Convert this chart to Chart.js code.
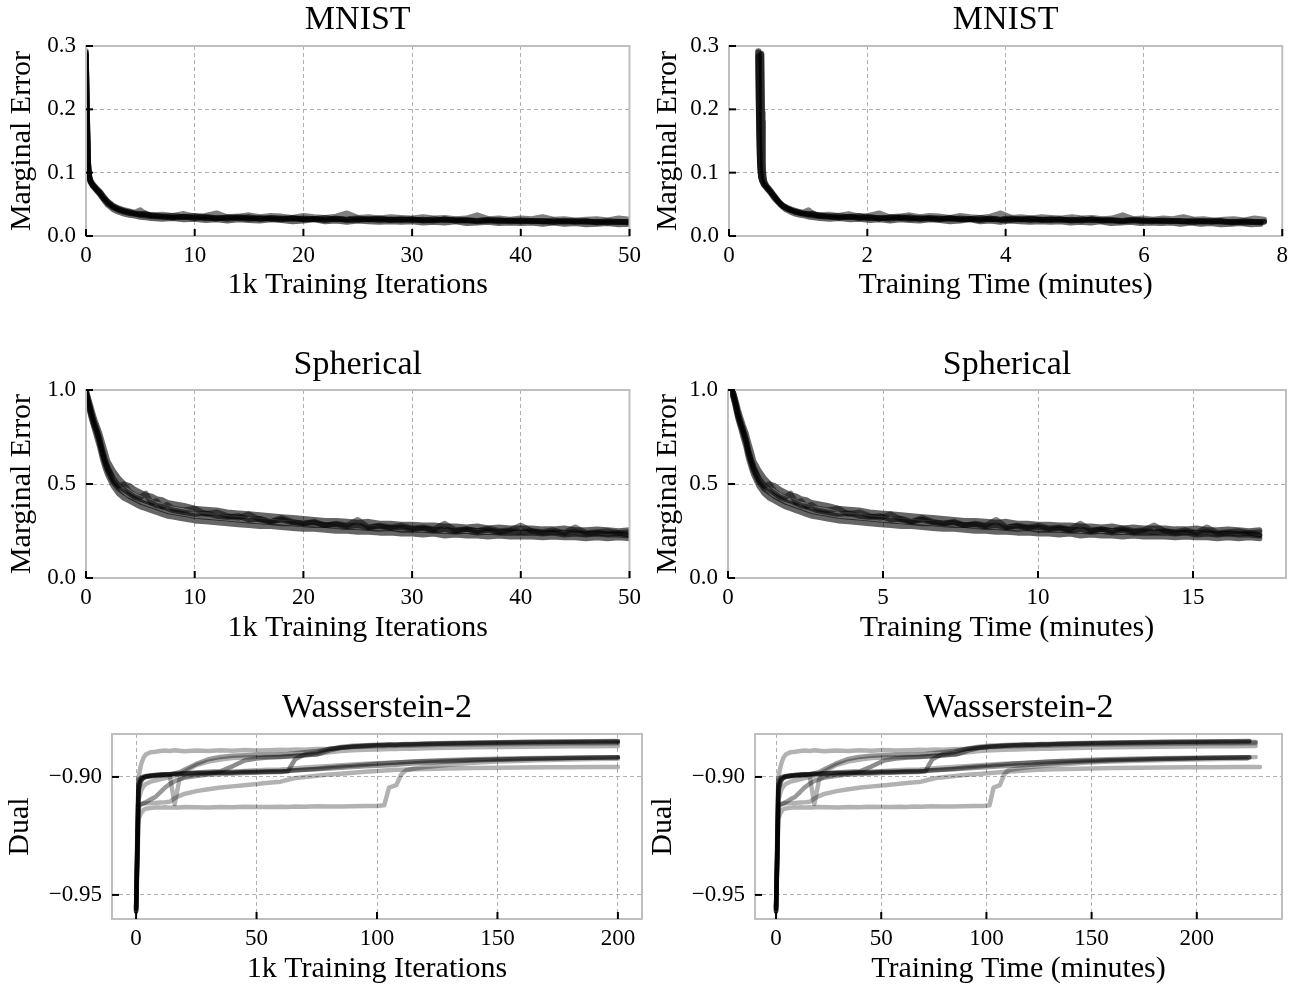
<!DOCTYPE html>
<html>
<head>
<meta charset="utf-8">
<script src="https://cdn.jsdelivr.net/npm/chart.js@4.4.0/dist/chart.umd.min.js"></script>
<style>
  body { margin: 0; background: #fff; }
  #fig { position: relative; width: 1294px; height: 988px; }
  canvas { position: absolute; }
</style>
</head>
<body>
<div id="fig">
  <canvas id="c_mnist_it" width="647" height="310" style="left:0px;top:0px"></canvas>
  <canvas id="c_mnist_t" width="647" height="310" style="left:647px;top:0px"></canvas>
  <canvas id="c_sph_it" width="647" height="325" style="left:0px;top:330px"></canvas>
  <canvas id="c_sph_t" width="647" height="325" style="left:647px;top:330px"></canvas>
  <canvas id="c_w2_it" width="647" height="328" style="left:0px;top:660px"></canvas>
  <canvas id="c_w2_t" width="647" height="328" style="left:647px;top:660px"></canvas>
</div>
<script>
// ---- MNIST: marginal error per run (1k iterations / minutes)
var mnistIters = [0, 0.1, 0.2, 0.3, 0.4, 0.6, 0.8, 1, 1.3, 1.6, 2, 2.5, 3, 3.5, 4, 4.5, 5, 5.5, 6,
  7, 8, 9, 10, 11, 12, 13, 14, 15, 16, 17,
  18, 19, 20, 21, 22, 23, 24, 25, 26, 27, 28,
  29, 30, 31, 32, 33, 34, 35, 36, 37, 38, 39,
  40, 41, 42, 43, 44, 45, 46, 47, 48, 49, 50];
var mnistTimeA = [0.42, 0.43, 0.445, 0.46, 0.475, 0.50, 0.53, 0.56, 0.60, 0.65, 0.71, 0.78, 0.86, 0.93, 1.00, 1.07, 1.15, 1.22, 1.29,
  1.44, 1.58, 1.73, 1.88, 2.02, 2.17, 2.32, 2.46, 2.61, 2.76, 2.90,
  3.05, 3.20, 3.34, 3.49, 3.64, 3.78, 3.93, 4.08, 4.22, 4.37, 4.52,
  4.66, 4.81, 4.96, 5.10, 5.25, 5.40, 5.54, 5.69, 5.84, 5.98, 6.13,
  6.28, 6.42, 6.57, 6.72, 6.86, 7.01, 7.16, 7.30, 7.45, 7.60, 7.74];
var mnistTimeB = [0.47, 0.48, 0.49, 0.50, 0.515, 0.54, 0.57, 0.60, 0.64, 0.69, 0.75, 0.82, 0.89, 0.96, 1.03, 1.10, 1.17, 1.24, 1.31,
  1.46, 1.60, 1.75, 1.89, 2.04, 2.18, 2.33, 2.47, 2.62, 2.76, 2.91,
  3.05, 3.20, 3.34, 3.49, 3.63, 3.78, 3.92, 4.07, 4.21, 4.36, 4.50,
  4.65, 4.79, 4.94, 5.08, 5.23, 5.37, 5.52, 5.66, 5.81, 5.95, 6.10,
  6.24, 6.39, 6.53, 6.68, 6.82, 6.97, 7.11, 7.26, 7.40, 7.55, 7.69];
var mnistRun1 = [0.290, 0.185, 0.112, 0.094, 0.088, 0.082, 0.078, 0.074, 0.069, 0.062, 0.054, 0.047, 0.043, 0.040, 0.038, 0.036, 0.035, 0.034, 0.033,
  0.031, 0.032, 0.030, 0.029, 0.031, 0.028, 0.029, 0.030, 0.028, 0.027, 0.029,
  0.028, 0.027, 0.028, 0.027, 0.029, 0.026, 0.027, 0.028, 0.026, 0.027, 0.026,
  0.027, 0.026, 0.025, 0.027, 0.025, 0.026, 0.025, 0.024, 0.026, 0.025, 0.024,
  0.025, 0.024, 0.023, 0.025, 0.023, 0.024, 0.023, 0.022, 0.024, 0.022, 0.023];
var mnistRun2 = [0.286, 0.195, 0.118, 0.097, 0.086, 0.080, 0.076, 0.072, 0.066, 0.059, 0.051, 0.045, 0.041, 0.038, 0.036, 0.035, 0.033, 0.032, 0.031,
  0.030, 0.029, 0.031, 0.028, 0.029, 0.027, 0.030, 0.028, 0.027, 0.029, 0.027,
  0.026, 0.028, 0.026, 0.027, 0.025, 0.027, 0.026, 0.025, 0.027, 0.025, 0.026,
  0.025, 0.027, 0.024, 0.025, 0.026, 0.024, 0.025, 0.023, 0.024, 0.025, 0.023,
  0.024, 0.023, 0.024, 0.022, 0.023, 0.022, 0.024, 0.021, 0.022, 0.023, 0.021];
var mnistRun3 = [0.292, 0.200, 0.120, 0.096, 0.089, 0.083, 0.079, 0.075, 0.070, 0.063, 0.055, 0.048, 0.044, 0.041, 0.039, 0.037, 0.041, 0.034, 0.033,
  0.034, 0.032, 0.035, 0.031, 0.032, 0.036, 0.030, 0.031, 0.033, 0.030, 0.032,
  0.031, 0.029, 0.032, 0.030, 0.029, 0.031, 0.036, 0.029, 0.030, 0.028, 0.030,
  0.029, 0.028, 0.030, 0.028, 0.029, 0.027, 0.028, 0.033, 0.027, 0.028, 0.026,
  0.028, 0.027, 0.030, 0.026, 0.027, 0.025, 0.026, 0.027, 0.025, 0.028, 0.026];
var mnistRun4 = [0.288, 0.180, 0.108, 0.092, 0.085, 0.079, 0.075, 0.071, 0.065, 0.058, 0.049, 0.042, 0.038, 0.035, 0.033, 0.032, 0.030, 0.029, 0.028,
  0.027, 0.028, 0.026, 0.027, 0.025, 0.026, 0.024, 0.026, 0.025, 0.024, 0.026,
  0.025, 0.023, 0.024, 0.026, 0.023, 0.024, 0.022, 0.024, 0.023, 0.022, 0.023,
  0.022, 0.023, 0.021, 0.022, 0.021, 0.023, 0.020, 0.021, 0.022, 0.020, 0.021,
  0.020, 0.021, 0.019, 0.021, 0.019, 0.020, 0.018, 0.019, 0.020, 0.018, 0.019];
var mnistRun5 = [0.284, 0.190, 0.116, 0.093, 0.087, 0.081, 0.077, 0.073, 0.068, 0.060, 0.053, 0.046, 0.042, 0.039, 0.037, 0.035, 0.034, 0.036, 0.032,
  0.031, 0.029, 0.030, 0.032, 0.028, 0.029, 0.027, 0.029, 0.030, 0.027, 0.028,
  0.027, 0.029, 0.026, 0.027, 0.026, 0.028, 0.025, 0.027, 0.026, 0.028, 0.025,
  0.026, 0.025, 0.026, 0.024, 0.027, 0.024, 0.025, 0.024, 0.025, 0.023, 0.025,
  0.023, 0.024, 0.023, 0.022, 0.024, 0.023, 0.022, 0.023, 0.021, 0.022, 0.022];

// ---- Spherical
var sphIters = [0, 0.25, 0.5, 0.75, 1, 1.25, 1.5, 1.75, 2, 2.5, 3, 3.5, 4, 4.5, 5, 5.5, 6, 6.5, 7, 7.5, 8, 9,
  10, 11, 12, 13, 14, 15, 16, 17, 18, 19, 20,
  21, 22, 23, 24, 25, 26, 27, 28, 29, 30,
  31, 32, 33, 34, 35, 36, 37, 38, 39, 40,
  41, 42, 43, 44, 45, 46, 47, 48, 49, 50];
var sphTime = [0.15, 0.24, 0.32, 0.41, 0.49, 0.58, 0.66, 0.75, 0.83, 1.00, 1.17, 1.34, 1.51, 1.68, 1.85, 2.02, 2.19, 2.36, 2.53, 2.70, 2.87, 3.21,
  3.55, 3.89, 4.23, 4.57, 4.91, 5.25, 5.59, 5.93, 6.27, 6.61, 6.95,
  7.29, 7.63, 7.97, 8.31, 8.65, 8.99, 9.33, 9.67, 10.01, 10.35,
  10.69, 11.03, 11.37, 11.71, 12.05, 12.39, 12.73, 13.07, 13.41, 13.75,
  14.09, 14.43, 14.77, 15.11, 15.45, 15.79, 16.13, 16.47, 16.81, 17.15];
var sphRun1 = [1.00, 0.94, 0.88, 0.83, 0.79, 0.74, 0.68, 0.63, 0.59, 0.53, 0.49, 0.47, 0.45, 0.43, 0.42, 0.41, 0.40, 0.385, 0.38, 0.37, 0.36, 0.35,
  0.34, 0.345, 0.33, 0.325, 0.33, 0.31, 0.315, 0.30, 0.31, 0.295, 0.29,
  0.295, 0.28, 0.285, 0.275, 0.28, 0.27, 0.275, 0.265, 0.27, 0.26,
  0.265, 0.255, 0.26, 0.25, 0.26, 0.25, 0.255, 0.245, 0.25, 0.245,
  0.25, 0.24, 0.245, 0.24, 0.245, 0.235, 0.24, 0.235, 0.24, 0.23];
var sphRun2 = [0.98, 0.91, 0.85, 0.80, 0.75, 0.70, 0.64, 0.59, 0.55, 0.49, 0.45, 0.425, 0.41, 0.395, 0.38, 0.37, 0.36, 0.35, 0.34, 0.33, 0.325, 0.315,
  0.305, 0.30, 0.295, 0.29, 0.285, 0.28, 0.275, 0.275, 0.27, 0.265, 0.26,
  0.26, 0.255, 0.25, 0.25, 0.245, 0.245, 0.24, 0.24, 0.235, 0.235,
  0.23, 0.235, 0.225, 0.23, 0.225, 0.225, 0.22, 0.225, 0.22, 0.22,
  0.22, 0.215, 0.22, 0.215, 0.215, 0.21, 0.215, 0.21, 0.215, 0.21];
var sphRun3 = [0.99, 0.93, 0.87, 0.82, 0.78, 0.73, 0.67, 0.62, 0.58, 0.52, 0.49, 0.50, 0.46, 0.44, 0.43, 0.45, 0.40, 0.41, 0.38, 0.39, 0.37, 0.36,
  0.37, 0.34, 0.35, 0.33, 0.32, 0.34, 0.31, 0.30, 0.32, 0.30, 0.29,
  0.30, 0.28, 0.29, 0.28, 0.31, 0.27, 0.28, 0.27, 0.28, 0.265,
  0.27, 0.26, 0.29, 0.255, 0.26, 0.25, 0.265, 0.25, 0.255, 0.28,
  0.25, 0.245, 0.255, 0.24, 0.27, 0.24, 0.245, 0.25, 0.24, 0.245];
var sphRun4 = [0.97, 0.92, 0.86, 0.81, 0.77, 0.72, 0.66, 0.61, 0.57, 0.51, 0.475, 0.455, 0.435, 0.42, 0.405, 0.395, 0.385, 0.375, 0.365, 0.355, 0.35, 0.34,
  0.33, 0.325, 0.32, 0.315, 0.31, 0.305, 0.30, 0.295, 0.29, 0.29, 0.285,
  0.28, 0.28, 0.275, 0.27, 0.27, 0.265, 0.26, 0.265, 0.255, 0.255,
  0.255, 0.25, 0.25, 0.245, 0.25, 0.24, 0.245, 0.24, 0.24, 0.24,
  0.24, 0.235, 0.24, 0.23, 0.235, 0.23, 0.235, 0.23, 0.23, 0.225];
var sphRun5 = [1.00, 0.95, 0.90, 0.85, 0.81, 0.77, 0.72, 0.67, 0.62, 0.57, 0.53, 0.50, 0.49, 0.47, 0.455, 0.44, 0.435, 0.42, 0.415, 0.40, 0.395, 0.385,
  0.37, 0.365, 0.36, 0.35, 0.345, 0.34, 0.335, 0.33, 0.325, 0.32, 0.315,
  0.31, 0.305, 0.305, 0.30, 0.295, 0.30, 0.29, 0.29, 0.285, 0.285,
  0.28, 0.28, 0.275, 0.275, 0.27, 0.275, 0.265, 0.27, 0.265, 0.265,
  0.265, 0.26, 0.26, 0.265, 0.255, 0.255, 0.26, 0.255, 0.25, 0.255];

// ---- Wasserstein-2: dual objective per run
var w2Iters = [0, 0.5, 1, 2, 3, 4, 6, 8, 10, 12,
  14, 16, 18, 20, 25, 30, 35, 40, 45, 50,
  55, 60, 63, 66, 70, 75, 80, 85, 90, 95,
  100, 103, 105, 108, 110, 112, 115, 120, 130, 140,
  150, 160, 170, 180, 190, 200];
var w2TimeA = [0, 0.6, 1.1, 2.3, 3.4, 4.5, 6.8, 9.0, 11.3, 13.5,
  15.8, 18.0, 20.3, 22.5, 28.1, 33.8, 39.4, 45.0, 50.6, 56.3,
  61.9, 67.5, 70.9, 74.3, 78.8, 84.4, 90.0, 95.6, 101.3, 106.9,
  112.5, 115.9, 118.1, 121.5, 123.8, 126.0, 129.4, 135.0, 146.3, 157.5,
  168.8, 180.0, 191.3, 202.5, 213.8, 225.0];
var w2TimeB = [0, 0.6, 1.1, 2.3, 3.4, 4.6, 6.8, 9.1, 11.4, 13.7,
  16.0, 18.2, 20.5, 22.8, 28.5, 34.2, 39.9, 45.6, 51.3, 57.0,
  62.7, 68.4, 71.8, 75.2, 79.8, 85.5, 91.2, 96.9, 102.6, 108.3,
  114.0, 117.4, 119.7, 123.1, 125.4, 127.7, 131.1, 136.8, 148.2, 159.6,
  171.0, 182.4, 193.8, 205.2, 216.6, 228.0];
var w2TimeC = [0, 0.5, 1.0, 2.0, 3.0, 3.9, 5.9, 7.9, 9.9, 11.8,
  13.8, 15.8, 17.7, 19.7, 24.6, 29.6, 34.5, 39.4, 44.3, 49.3,
  54.2, 59.1, 62.1, 65.0, 69.0, 73.9, 78.8, 83.7, 88.7, 93.6,
  98.5, 101.5, 103.4, 106.4, 108.4, 110.3, 114.2, 120.6, 133.5, 146.4,
  159.3, 172.2, 185.1, 198.0, 210.9, 223.8];
var w2TimeD = [0, 0.6, 1.2, 2.3, 3.5, 4.6, 6.9, 9.2, 11.5, 13.8,
  16.1, 18.4, 20.7, 23.0, 28.8, 34.5, 40.3, 46.0, 51.8, 57.5,
  63.3, 69.0, 72.5, 75.9, 80.5, 86.3, 92.0, 97.8, 103.5, 109.3,
  115.0, 118.5, 120.8, 124.2, 126.5, 128.8, 132.3, 138.0, 149.5, 161.0,
  172.5, 184.0, 195.5, 207.0, 218.5, 230.0];
var w2Run1 = [-0.957, -0.930, -0.905, -0.9015, -0.9005, -0.9000, -0.8995, -0.8992, -0.8990, -0.8988,
  -0.8990, -0.8986, -0.8988, -0.8985, -0.8983, -0.8984, -0.8981, -0.8982, -0.8979, -0.8980,
  -0.8978, -0.8979, -0.8976, -0.8925, -0.8905, -0.8897, -0.8882, -0.8876, -0.8872, -0.8869,
  -0.8866, -0.8866, -0.8864, -0.8865, -0.8863, -0.8862, -0.8862, -0.8860, -0.8858, -0.8856,
  -0.8854, -0.8852, -0.8851, -0.8850, -0.8849, -0.8848];
var w2Run2 = [-0.955, -0.925, -0.900, -0.895, -0.892, -0.8905, -0.8895, -0.8893, -0.8890, -0.8888,
  -0.8890, -0.8887, -0.8889, -0.8891, -0.8888, -0.8890, -0.8887, -0.8889, -0.8886, -0.8888,
  -0.8887, -0.8885, -0.8886, -0.8884, -0.8885, -0.8882, -0.8880, -0.8876, -0.8873, -0.8872,
  -0.8870, -0.8870, -0.8869, -0.8869, -0.8868, -0.8868, -0.8867, -0.8866, -0.8864, -0.8862,
  -0.8861, -0.8860, -0.8859, -0.8858, -0.8858, -0.8857];
var w2Run3 = [-0.956, -0.928, -0.906, -0.902, -0.9005, -0.9000, -0.8998, -0.8995, -0.8993, -0.8990,
  -0.8988, -0.8985, -0.8980, -0.8970, -0.8945, -0.8925, -0.8915, -0.8910, -0.8908, -0.8906,
  -0.8905, -0.8904, -0.8903, -0.8900, -0.8895, -0.8890, -0.8882, -0.8873, -0.8868, -0.8866,
  -0.8864, -0.8863, -0.8863, -0.8862, -0.8861, -0.8860, -0.8860, -0.8858, -0.8856, -0.8854,
  -0.8853, -0.8852, -0.8851, -0.8851, -0.8850, -0.8850];
var w2Run4 = [-0.955, -0.935, -0.910, -0.906, -0.904, -0.903, -0.902, -0.9015, -0.901, -0.9005,
  -0.9000, -0.8995, -0.8988, -0.8978, -0.8950, -0.8935, -0.8926, -0.8920, -0.8918, -0.8916,
  -0.8915, -0.8914, -0.8912, -0.8910, -0.8908, -0.8903, -0.8895, -0.8890, -0.8887, -0.8885,
  -0.8884, -0.8883, -0.8882, -0.8882, -0.8881, -0.8880, -0.8880, -0.8878, -0.8876, -0.8874,
  -0.8873, -0.8872, -0.8871, -0.8870, -0.8870, -0.8869];
var w2Run5 = [-0.955, -0.925, -0.901, -0.9002, -0.8998, -0.8996, -0.8995, -0.8996, -0.8994, -0.8995,
  -0.8995, -0.9115, -0.9010, -0.8998, -0.8990, -0.8985, -0.8980, -0.8977, -0.8975, -0.8972,
  -0.8970, -0.8968, -0.8966, -0.8963, -0.8960, -0.8957, -0.8954, -0.8950, -0.8947, -0.8944,
  -0.8942, -0.8941, -0.8940, -0.8939, -0.8938, -0.8937, -0.8936, -0.8934, -0.8931, -0.8928,
  -0.8926, -0.8924, -0.8922, -0.8920, -0.8918, -0.8916];
var w2Run6 = [-0.956, -0.935, -0.913, -0.9118, -0.9113, -0.9112, -0.9110, -0.9110, -0.9108, -0.9107,
  -0.9105, -0.9090, -0.9080, -0.9072, -0.9060, -0.9052, -0.9045, -0.9040, -0.9035, -0.9030,
  -0.9025, -0.9020, -0.9012, -0.9005, -0.9000, -0.8995, -0.8990, -0.8986, -0.8982, -0.8978,
  -0.8975, -0.8973, -0.8972, -0.8970, -0.8969, -0.8968, -0.8967, -0.8966, -0.8964, -0.8962,
  -0.8961, -0.8960, -0.8959, -0.8959, -0.8958, -0.8958];
var w2Run7 = [-0.957, -0.940, -0.918, -0.9155, -0.9140, -0.9135, -0.9132, -0.9130, -0.9130, -0.9128,
  -0.9130, -0.9128, -0.9129, -0.9127, -0.9128, -0.9129, -0.9127, -0.9128, -0.9126, -0.9127,
  -0.9127, -0.9126, -0.9127, -0.9125, -0.9126, -0.9124, -0.9125, -0.9125, -0.9124, -0.9123,
  -0.9123, -0.9120, -0.9045, -0.9035, -0.8990, -0.8972, -0.8965, -0.8958, -0.8948, -0.8940,
  -0.8935, -0.8931, -0.8928, -0.8926, -0.8924, -0.8923];
var w2Run8 = [-0.956, -0.930, -0.902, -0.9005, -0.9000, -0.8997, -0.8994, -0.8992, -0.8990, -0.8991,
  -0.8989, -0.8988, -0.8987, -0.8986, -0.8984, -0.8982, -0.8981, -0.8980, -0.8978, -0.8977,
  -0.8976, -0.8975, -0.8974, -0.8972, -0.8970, -0.8967, -0.8964, -0.8961, -0.8958, -0.8955,
  -0.8953, -0.8951, -0.8950, -0.8948, -0.8946, -0.8945, -0.8943, -0.8940, -0.8935, -0.8930,
  -0.8927, -0.8924, -0.8922, -0.8920, -0.8919, -0.8918];
var w2Run9 = [-0.957, -0.932, -0.904, -0.9010, -0.9002, -0.8998, -0.8995, -0.8993, -0.8992, -0.8990,
  -0.8989, -0.8987, -0.8985, -0.8984, -0.8981, -0.8978, -0.8976, -0.8955, -0.8930, -0.8922,
  -0.8918, -0.8915, -0.8913, -0.8911, -0.8908, -0.8905, -0.8888, -0.8876, -0.8871, -0.8868,
  -0.8866, -0.8865, -0.8864, -0.8864, -0.8863, -0.8862, -0.8861, -0.8860, -0.8858, -0.8857,
  -0.8856, -0.8855, -0.8854, -0.8853, -0.8853, -0.8852];
var w2Run10 = [-0.956, -0.935, -0.912, -0.9115, -0.9112, -0.9108, -0.9095, -0.9085, -0.9065, -0.9045,
  -0.9030, -0.9018, -0.9010, -0.9004, -0.8996, -0.8990, -0.8988, -0.8985, -0.8983, -0.8981,
  -0.8979, -0.8977, -0.8975, -0.8972, -0.8969, -0.8965, -0.8960, -0.8956, -0.8952, -0.8948,
  -0.8944, -0.8942, -0.8941, -0.8939, -0.8938, -0.8937, -0.8935, -0.8932, -0.8928, -0.8925,
  -0.8923, -0.8921, -0.8920, -0.8919, -0.8918, -0.8917];

// ---- tick labels
var mnistItTicks = [0, 10, 20, 30, 40, 50];
var mnistTimeTicks = [0, 2, 4, 6, 8];
var mnistErrTicks = [0, 0.1, 0.2, 0.3];
var sphItTicks = [0, 10, 20, 30, 40, 50];
var sphTimeTicks = [0, 5, 10, 15];
var sphErrTicks = [0, 0.5, 1.0];
var w2ItTicks = [0, 50, 100, 150, 200];
var w2TimeTicks = [0, 50, 100, 150, 200];
var w2DualTicks = [-0.95, -0.90];

// ---- styles
var serif = "'Liberation Serif', 'Times New Roman', serif";
var bandShade = [0.6, 0.6, 0.5, 0.6, 0.6];
var w2Shade = [0.45, 0.3, 0.4, 0.3, 0.3, 0.3, 0.3, 0.4, 0.45, 0.4];

function pts(xs, ys) {
  return xs.map(function (x, i) { return { x: x, y: ys[i] }; });
}

function runs(xsList, ysList, shades, width) {
  return ysList.map(function (ys, i) {
    return {
      data: pts(xsList[i % xsList.length], ys),
      borderColor: 'rgba(0,0,0,' + shades[i % shades.length] + ')',
      borderWidth: width,
      fill: false
    };
  });
}

// spines on all four sides + inward black ticks on bottom/left
var framePlugin = {
  id: 'frame',
  afterDraw: function (chart) {
    var ctx = chart.ctx, a = chart.chartArea;
    ctx.save();
    ctx.strokeStyle = '#bfbfbf';
    ctx.lineWidth = 2;
    ctx.strokeRect(a.left, a.top, a.right - a.left, a.bottom - a.top);
    ctx.strokeStyle = '#000';
    ctx.lineWidth = 2;
    chart.scales.x.ticks.forEach(function (t) {
      var px = chart.scales.x.getPixelForValue(t.value);
      ctx.beginPath(); ctx.moveTo(px, a.bottom); ctx.lineTo(px, a.bottom - 7); ctx.stroke();
    });
    chart.scales.y.ticks.forEach(function (t) {
      var py = chart.scales.y.getPixelForValue(t.value);
      ctx.beginPath(); ctx.moveTo(a.left, py); ctx.lineTo(a.left + 7, py); ctx.stroke();
    });
    ctx.restore();
  }
};

function panel(id, o) {
  var ctx = document.getElementById(id).getContext('2d');
  return new Chart(ctx, {
    type: 'line',
    data: { datasets: o.datasets },
    plugins: [framePlugin],
    options: {
      responsive: false,
      animation: false,
      events: [],
      layout: { padding: { left: 0, right: o.right, top: 0, bottom: 0 } },
      elements: {
        point: { radius: 0 },
        line: { tension: 0, borderCapStyle: 'round', borderJoinStyle: 'round' }
      },
      plugins: {
        legend: { display: false },
        tooltip: { enabled: false },
        title: {
          display: true,
          text: o.title,
          fullSize: false,
          color: '#000',
          font: { family: serif, size: 34, weight: 'normal', lineHeight: 1 },
          padding: o.titlePad
        }
      },
      scales: {
        x: {
          type: 'linear',
          min: o.xMin,
          max: o.xMax,
          afterBuildTicks: function (s) { s.ticks = o.xTicks.map(function (v) { return { value: v }; }); },
          afterFit: function (s) { s.height = o.bottom; },
          grid: { color: '#b0b0b0', lineWidth: 1, drawTicks: false },
          border: { display: false, dash: [4, 3] },
          ticks: {
            autoSkip: false,
            maxRotation: 0,
            padding: 6,
            color: '#000',
            font: { family: serif, size: 23 },
            callback: function (v) { return String(v); }
          },
          title: {
            display: true,
            text: o.xLabel,
            color: '#000',
            font: { family: serif, size: 30, lineHeight: 1 },
            padding: { top: 0, bottom: o.xTitlePad }
          }
        },
        y: {
          type: 'linear',
          min: o.yMin,
          max: o.yMax,
          afterBuildTicks: function (s) { s.ticks = o.yTicks.map(function (v) { return { value: v }; }); },
          afterFit: function (s) { s.width = o.left; },
          grid: { color: '#b0b0b0', lineWidth: 1, drawTicks: false },
          border: { display: false, dash: [4, 3] },
          ticks: {
            autoSkip: false,
            padding: 10,
            color: '#000',
            font: { family: serif, size: 23 },
            callback: o.yFormat
          },
          title: {
            display: true,
            text: o.yLabel,
            color: '#000',
            font: { family: serif, size: 30, lineHeight: 1 },
            padding: { top: o.yTitlePad, bottom: 0 }
          }
        }
      }
    }
  });
}

function oneDecimal(v) { return Number(v).toFixed(1); }
function dualFormat(v) { return (v < 0 ? '\u2212' : '') + Math.abs(v).toFixed(2); }

var mnistYs = [mnistRun1, mnistRun2, mnistRun3, mnistRun4, mnistRun5];
var sphYs = [sphRun1, sphRun2, sphRun3, sphRun4, sphRun5];
var w2Ys = [w2Run1, w2Run2, w2Run3, w2Run4, w2Run5, w2Run6, w2Run7, w2Run8, w2Run9, w2Run10];

//mnist iterations
panel('c_mnist_it', {
  datasets: runs([mnistIters], mnistYs, bandShade, 5.5),
  title: 'MNIST', titlePad: { top: 3, bottom: 9 },
  left: 86, right: 14, bottom: 74,
  xMin: 0, xMax: 50, xTicks: mnistItTicks, xLabel: '1k Training Iterations', xTitlePad: 10,
  yMin: 0, yMax: 0.3, yTicks: mnistErrTicks, yLabel: 'Marginal Error', yTitlePad: 7, yFormat: oneDecimal
});

//mnist time
panel('c_mnist_t', {
  datasets: runs([mnistTimeA, mnistTimeB], mnistYs, bandShade, 5.5),
  title: 'MNIST', titlePad: { top: 3, bottom: 9 },
  left: 82, right: 9, bottom: 74,
  xMin: 0, xMax: 8, xTicks: mnistTimeTicks, xLabel: 'Training Time (minutes)', xTitlePad: 10,
  yMin: 0, yMax: 0.3, yTicks: mnistErrTicks, yLabel: 'Marginal Error', yTitlePad: 6, yFormat: oneDecimal
});

//spherical iterations
panel('c_sph_it', {
  datasets: runs([sphIters], sphYs, bandShade, 5.5),
  title: 'Spherical', titlePad: { top: 18, bottom: 8 },
  left: 86, right: 14, bottom: 77,
  xMin: 0, xMax: 50, xTicks: sphItTicks, xLabel: '1k Training Iterations', xTitlePad: 12,
  yMin: 0, yMax: 1, yTicks: sphErrTicks, yLabel: 'Marginal Error', yTitlePad: 7, yFormat: oneDecimal
});

//spherical time
panel('c_sph_t', {
  datasets: runs([sphTime], sphYs, bandShade, 5.5),
  title: 'Spherical', titlePad: { top: 18, bottom: 8 },
  left: 81, right: 8, bottom: 77,
  xMin: 0, xMax: 18, xTicks: sphTimeTicks, xLabel: 'Training Time (minutes)', xTitlePad: 12,
  yMin: 0, yMax: 1, yTicks: sphErrTicks, yLabel: 'Marginal Error', yTitlePad: 6, yFormat: oneDecimal
});

//wasserstein iterations
panel('c_w2_it', {
  datasets: runs([w2Iters], w2Ys, w2Shade, 4.5),
  title: 'Wasserstein-2', titlePad: { top: 31, bottom: 9 },
  left: 112, right: 5, bottom: 69,
  xMin: -10, xMax: 210, xTicks: w2ItTicks, xLabel: '1k Training Iterations', xTitlePad: 4,
  yMin: -0.9602, yMax: -0.8818, yTicks: w2DualTicks, yLabel: 'Dual', yTitlePad: 5, yFormat: dualFormat
});

//wasserstein time
panel('c_w2_t', {
  datasets: runs([w2TimeA, w2TimeB, w2TimeA, w2TimeB, w2TimeB, w2TimeD, w2TimeC, w2TimeA, w2TimeB, w2TimeA], w2Ys, w2Shade, 4.5),
  title: 'Wasserstein-2', titlePad: { top: 31, bottom: 9 },
  left: 108, right: 12, bottom: 69,
  xMin: -10, xMax: 240.5, xTicks: w2TimeTicks, xLabel: 'Training Time (minutes)', xTitlePad: 4,
  yMin: -0.9602, yMax: -0.8818, yTicks: w2DualTicks, yLabel: 'Dual', yTitlePad: 1, yFormat: dualFormat
});
</script>
</body>
</html>
